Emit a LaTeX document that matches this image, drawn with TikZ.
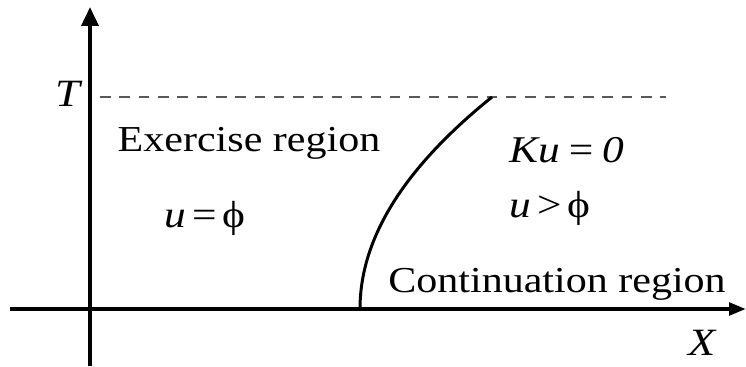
\documentclass[tikz,border=0pt]{standalone}
\usepackage{fontspec}
\setmainfont{Liberation Serif}[FakeStretch=1.15]
\usetikzlibrary{arrows.meta,positioning}

\begin{document}
\begin{tikzpicture}[x=0.02cm, y=-0.02cm]
  \tikzset{
    axis/.style={line width=2.3pt},
    lbl/.style={font=\fontsize{20.8}{24}\selectfont, inner sep=0pt, anchor=base},
    eqn/.style={font=\fontsize{21.5}{24}\selectfont, inner sep=0pt, anchor=base},
  }
  \useasboundingbox (0,0) rectangle (746,366);

  % axes
  \coordinate (xs) at (10,309);
  \coordinate (xe) at (746,309);
  \coordinate (ys) at (90,366);
  \coordinate (ye) at (90,7);
  \draw[axis, -{Triangle[length=9.6pt, width=7pt]}] (xs) -- (xe);
  \draw[axis, -{Triangle[length=10.8pt, width=9.6pt]}] (ys) -- (ye);

  % level t = T
  \coordinate (t0) at (100,97);
  \coordinate (t1) at (666,97);
  \draw[gray!70!black, line width=0.6pt, dash pattern=on 6pt off 5pt] (t0) -- (t1);

  % free boundary
  \coordinate (b0) at (360,309);
  \coordinate (b1) at (492,97);
  \draw[line width=1.7pt] (b0) .. controls (360,238) and (404,168) .. (b1);

  % axis labels
  \node[lbl] (T) at (68,106) {\fontsize{22}{24}\selectfont\itshape T};
  \node[lbl] (X) at (702,355) {\fontsize{22}{24}\selectfont\itshape X};

  % regions
  \node[lbl] (ex) at (249,151) {Exercise region};
  \node[eqn] (ueq) at (205,227) {\itshape u\upshape\,=\,ϕ};
  \node[eqn] (ku) at (567,162) {\itshape Ku\,=\,0};
  \node[eqn] (ugt) at (550,217) {\itshape u\upshape\,>\,ϕ};
  \node[lbl] (co) at (557,292) {Continuation region};
\end{tikzpicture}
\end{document}
